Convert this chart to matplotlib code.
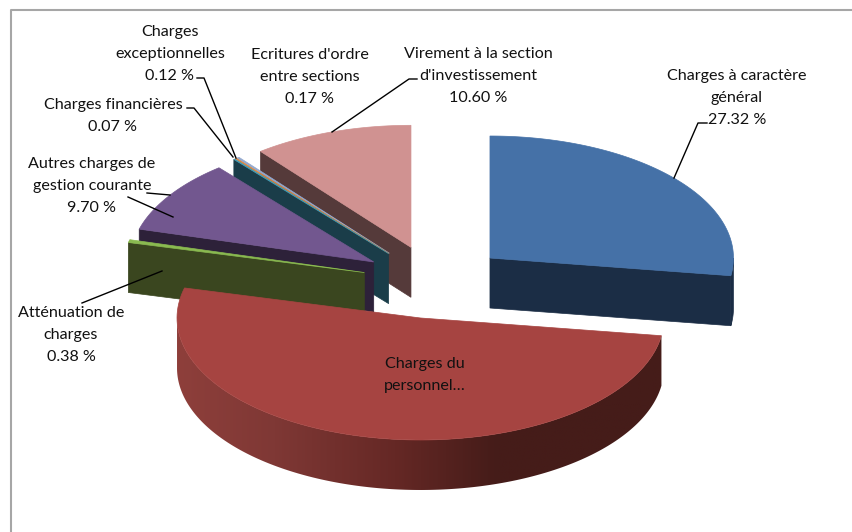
import numpy as np
import matplotlib
matplotlib.use("Agg")
import matplotlib.pyplot as plt
from matplotlib.patches import Polygon
from matplotlib.colors import LinearSegmentedColormap

plt.rcParams['font.family'] = ['Lato', 'DejaVu Sans']

# Shares of the budget, clockwise from 12 o'clock
names = ["Charges à caractère\ngénéral", "Charges du\npersonnel", "Atténuation de\ncharges",
         "Autres charges de\ngestion courante", "Charges financières",
         "Charges\nexceptionnelles", "Ecritures d'ordre\nentre sections",
         "Virement à la section\nd'investissement"]
values = [27.32, 51.64, 0.38, 9.70, 0.07, 0.12, 0.17, 10.60]
top_colors = ["#4571a7", "#a64441", "#8aba50", "#72578f", "#4198af", "#db843d", "#93a9cf", "#d09291"]
wall_colors = ["#1b2d45", "#451c19", "#3a461f", "#2d2139", "#1a3d49", "#1a3d49", "#1a3d49", "#553a3a"]

# Pie projection in pixels
cx, cy = 434.8, 282
rx, ry = 243.5, 122
ex, ey = 72.9, 36.7
depth = 50

fig = plt.figure(figsize=(8.53, 5.32), dpi=100)
ax = fig.add_axes([0, 0, 1, 1])
ax.set_xlim(0, 853)
ax.set_ylim(532, 0)
ax.axis('off')

# chart frame, only top and left are inside the picture
ax.plot([11, 11, 860], [540, 10, 10], color="#a6a6a6", lw=1.5)

edges = 360 * np.concatenate([[0], np.cumsum(values)]) / sum(values)


def apex(i):
    mid = np.radians((edges[i] + edges[i + 1]) / 2)
    return cx + ex * np.sin(mid), cy - ey * np.cos(mid)


def rim(i, angles):
    a = np.radians(angles)
    ax0, ay0 = apex(i)
    return ax0 + rx * np.sin(a), ay0 - ry * np.cos(a)


def radial_wall(i, angle):
    ax0, ay0 = apex(i)
    ox, oy = rim(i, np.array([angle]))
    pts = [(ax0, ay0), (ox[0], oy[0]), (ox[0], oy[0] + depth), (ax0, ay0 + depth)]
    ax.add_patch(Polygon(pts, closed=True, fc=wall_colors[i], ec=wall_colors[i], lw=0.5))


def top_face(i):
    ax0, ay0 = apex(i)
    a = np.linspace(edges[i], edges[i + 1], 120)
    x, y = rim(i, a)
    pts = [(ax0, ay0)] + list(zip(x, y))
    ax.add_patch(Polygon(pts, closed=True, fc=top_colors[i], ec=top_colors[i], lw=0.5))


# back slices first, the big red one goes on top of the others
radial_wall(7, edges[7])
top_face(7)
radial_wall(4, edges[4])
for i in [6, 5, 4]:
    top_face(i)
radial_wall(3, edges[3])
top_face(3)
radial_wall(2, edges[2])
top_face(2)

# blue slice: cut face and the small bit of rim past 90 degrees
a = np.linspace(90, edges[1], 20)
x, y = rim(0, a)
pts = list(zip(x, y)) + list(zip(x[::-1], y[::-1] + depth))
ax.add_patch(Polygon(pts, closed=True, fc=wall_colors[0], ec=wall_colors[0], lw=0.5))
radial_wall(0, edges[1])
top_face(0)

# red slice: rim shaded from left to right, only the part facing us
a = np.linspace(edges[1], 270, 300)
x, y = rim(1, a)
pts = list(zip(x, y)) + list(zip(x[::-1], y[::-1] + depth))
rim_patch = Polygon(pts, closed=True, fc='none', ec='none')
ax.add_patch(rim_patch)
shade = LinearSegmentedColormap.from_list("rim", [(0, "#8e3f3b"), (0.2, "#7f3835"), (0.45, "#652825"),
                                                  (0.66, "#451c19"), (1, "#451c19")])
img = ax.imshow(np.linspace(0, 1, 256).reshape(1, -1), cmap=shade, aspect='auto',
                extent=(x.min(), x.max(), y.max() + depth, y.min()), zorder=1.5)
img.set_clip_path(rim_patch)
ax.set_xlim(0, 853)
ax.set_ylim(532, 0)
top_face(1)
ax.patches[-1].set_zorder(1.6)

# labels
labels = [
    (737, 98, names[0] + "\n%.2f %%" % values[0]),
    (425, 375, names[1] + "…"),
    (71, 335, names[2] + "\n%.2f %%" % values[2]),
    (92, 186, names[3] + "\n%.2f %%" % values[3]),
    (113, 116, names[4] + "\n%.2f %%" % values[4]),
    (170, 54, names[5] + "\n%.2f %%" % values[5]),
    (310, 77, names[6] + "\n%.2f %%" % values[6]),
    (478, 76, names[7] + "\n%.2f %%" % values[7]),
]
for tx, ty, s in labels:
    ax.text(tx, ty, s, ha='center', va='center', fontsize=11.6, color="#111111", linespacing=1.74, zorder=5)

# leader lines
leaders = [
    ([707, 698, 674], [123, 123, 178]),
    ([417, 409, 332], [79, 79, 132]),
    ([197, 204, 236], [78, 78, 158]),
    ([187, 194, 233], [108, 108, 157]),
    ([147, 170], [193, 195]),
    ([128, 173], [197, 217]),
    ([82, 162], [303, 271]),
]
for lx, ly in leaders:
    ax.plot(lx, ly, color="black", lw=1, zorder=4)

fig.savefig("out.png", dpi=100)
